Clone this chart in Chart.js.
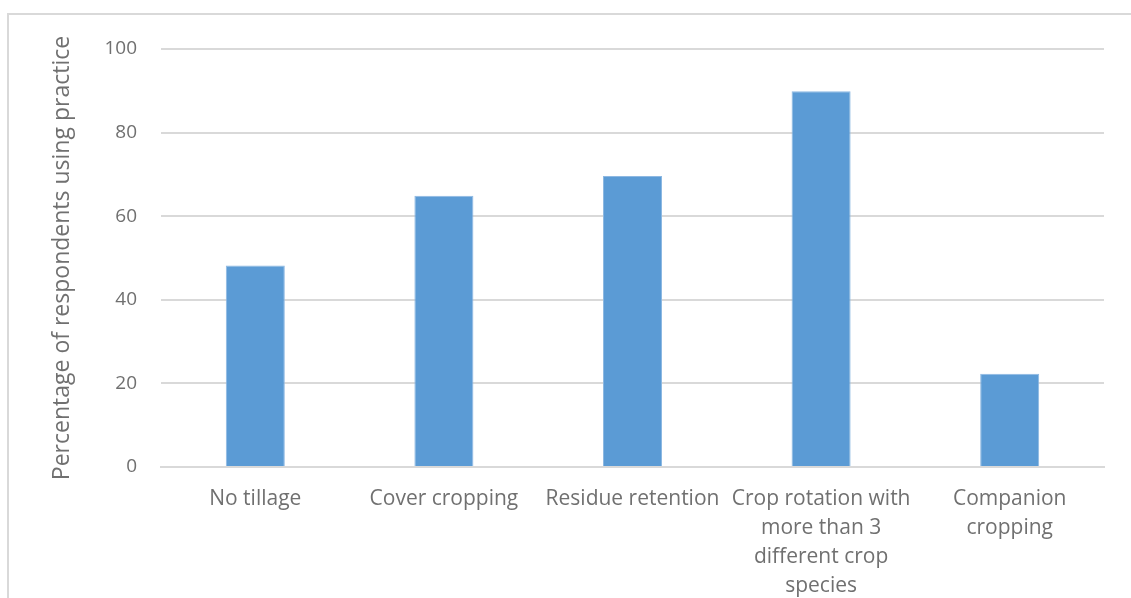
<!DOCTYPE html>
<html>
<head>
<meta charset="utf-8">
<script src="https://cdn.jsdelivr.net/npm/chart.js@4"></script>
<style>
  html, body { margin: 0; padding: 0; background: #ffffff; overflow: hidden; }
  #frame { position: absolute; left: 7px; top: 13px; width: 1200px; height: 700px;
           border: 2px solid #d9d9d9; box-sizing: border-box; }
  #wrap { position: absolute; left: 0; top: 0; width: 1131px; height: 598px; }
</style>
</head>
<body>
<div id="frame"></div>
<div id="wrap"><canvas id="chart" width="1131" height="598"></canvas></div>
<script>
// Share of respondents using each soil practice (%)
const practices = [
  "No tillage",
  "Cover cropping",
  "Residue retention",
  ["Crop rotation with", "more than 3", "different crop", "species"],
  ["Companion", "cropping"]
];
const percentUsing = [48.2, 64.9, 69.6, 89.9, 22.3];
const yTicks = [0, 20, 40, 60, 80, 100];

const textColor = "#707070";
const gridColor = "#d9d9d9";
const fontFamily = "'Open Sans', sans-serif";

new Chart(document.getElementById("chart"), {
  type: "bar",
  data: {
    labels: practices,
    datasets: [{
      data: percentUsing,
      backgroundColor: "#5b9bd5",
      borderColor: "#8db8e2",
      borderWidth: 1,
      categoryPercentage: 1.0,
      barPercentage: 0.313
    }]
  },
  options: {
    responsive: false,
    animation: false,
    layout: { padding: { top: 49, right: 27, left: 0, bottom: 0 } },
    plugins: { legend: { display: false }, tooltip: { enabled: false } },
    scales: {
      x: {
        grid: { display: false, drawTicks: false },
        border: { display: true, color: gridColor, width: 2 },
        ticks: {
          color: textColor, padding: 18, maxRotation: 0, autoSkip: false,
          font: { family: fontFamily, size: 21, lineHeight: 1.38 }
        },
        afterFit: s => { s.height = 131; }
      },
      y: {
        min: 0, max: 100,
        afterBuildTicks: s => { s.ticks = yTicks.map(v => ({ value: v })); },
        grid: { color: gridColor, lineWidth: 2, drawTicks: false },
        border: { display: false },
        ticks: {
          color: textColor, padding: 24,
          font: { family: fontFamily, size: 19 }
        },
        title: {
          display: true,
          text: "Percentage of respondents using practice",
          color: textColor,
          font: { family: fontFamily, size: 23 },
          padding: { top: 49, bottom: 0 }
        },
        afterFit: s => { s.width = 161; }
      }
    }
  }
});
</script>
</body>
</html>
